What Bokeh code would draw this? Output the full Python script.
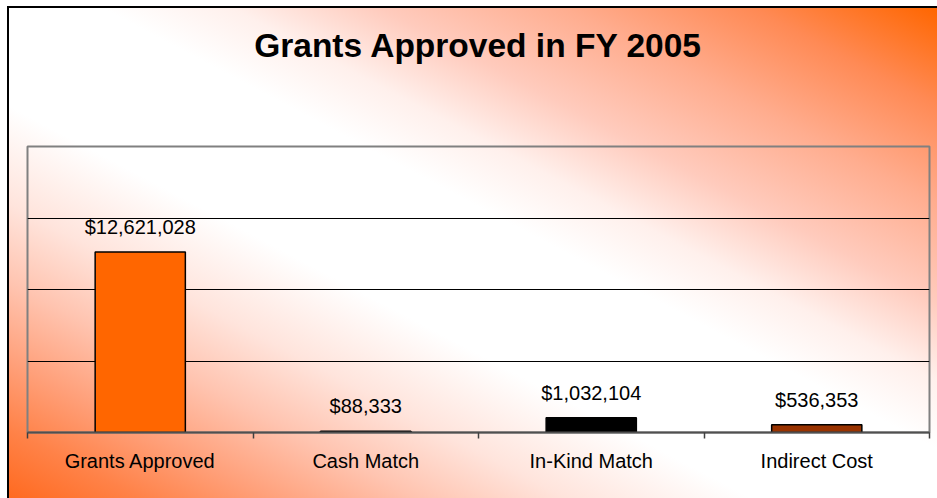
from bokeh.plotting import figure
from bokeh.models import Range1d, FixedTicker, ColumnDataSource
from bokeh.embed import file_html
from bokeh.resources import INLINE
from bokeh.core.properties import value

# ---- data ----
categories = ["Grants Approved", "Cash Match", "In-Kind Match", "Indirect Cost"]
amounts = [12621028, 88333, 1032104, 536353]
amount_labels = ["$12,621,028", "$88,333", "$1,032,104", "$536,353"]
bar_colors = ["#FF6600", "#000000", "#000000", "#993300"]
grid_values = [5000000, 10000000, 15000000]
title_text = "Grants Approved in FY 2005"

FONT = "Liberation Sans"

xs = [i + 0.5 for i in range(len(categories))]
src = ColumnDataSource(dict(x=xs, top=amounts, lab=amount_labels, col=bar_colors))

p = figure(width=937, height=498, output_backend="svg", toolbar_location=None,
           x_range=Range1d(0, len(categories)), y_range=Range1d(0, 20000000),
           min_border_left=27, min_border_right=8, min_border_top=146, min_border_bottom=66,
           title=title_text + "\n \n ")

grad = ("linear-gradient(#000,#000) 7px 6px / 2px 100% no-repeat, "
        "linear-gradient(#000,#000) 7px 6px / 100% 2px no-repeat, "
        "linear-gradient(to bottom left, #FF6600 0%, #FF8A55 10%, #FFAD8F 20%, #FFCBBD 30%, "
        "#FFF0EC 38%, #FFFFFF 45%, #FFFFFF 60%, #FFE4DC 70%, #FFC4B0 78%, #FFA07A 86%, "
        "#FF8248 93%, #FF6A20 100%) 9px 8px / calc(100% - 9px) calc(100% - 8px) no-repeat, "
        "#FFFFFF")
p.styles = {"background": grad}
p.background_fill_alpha = 0
p.border_fill_alpha = 0
p.outline_line_color = "#808080"
p.outline_line_width = 2

p.title.align = "center"
p.title.vertical_align = "top"
p.title.text_font = FONT
p.title.text_font_size = "33.5px"
p.title.text_font_style = "bold"
p.title.text_color = "black"
p.title.standoff = 14

p.vbar(x="x", top="top", width=0.4, fill_color="col", line_color="black", line_width=1.5, source=src)
p.text(x="x", y="top", text="lab", source=src, text_align="center", text_baseline="alphabetic",
       y_offset=-25, text_font=value(FONT), text_font_size="20px", text_color="black")

# y axis hidden, grid lines at fixed values
p.yaxis.visible = False
p.ygrid.ticker = FixedTicker(ticks=grid_values)
p.ygrid.grid_line_color = "black"
p.ygrid.grid_line_width = 1
p.xgrid.visible = False

# x axis: labels at centers, ticks at boundaries
ax = p.xaxis[0]
ax.ticker = FixedTicker(ticks=xs, minor_ticks=list(range(len(categories) + 1)))
ax.major_label_overrides = {x: c for x, c in zip(xs, categories)}
ax.major_tick_out = 0
ax.major_tick_in = 0
ax.minor_tick_out = 6
ax.minor_tick_in = 0
ax.minor_tick_line_color = "#404040"
ax.minor_tick_line_width = 1.5
ax.axis_line_color = "#505050"
ax.axis_line_width = 2
ax.major_label_standoff = 11
ax.major_label_text_font = FONT
ax.major_label_text_font_size = "20px"
ax.major_label_text_color = "black"

open("out.html", "w").write(file_html(p, INLINE))
